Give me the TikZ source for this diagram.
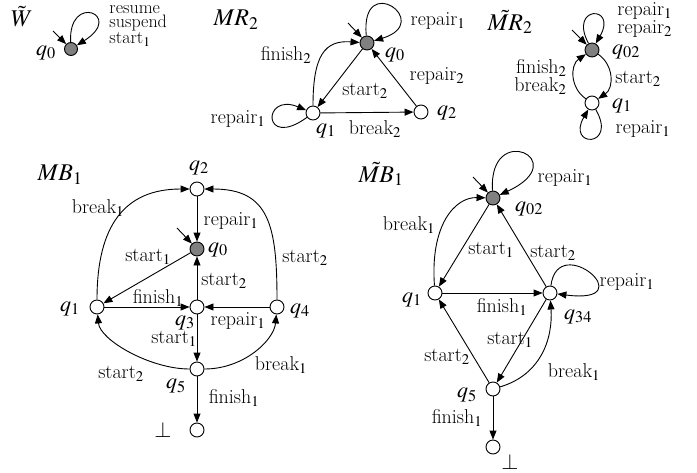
\documentclass[tikz,border=0pt]{standalone}
\usepackage{mathptmx}
\usetikzlibrary{arrows.meta}
\begin{document}
\begin{tikzpicture}[x=1pt,y=-1pt, line width=0.9pt,
  st/.style={circle,draw,fill=white,minimum size=14pt,inner sep=0pt},
  ini/.style={st,fill=gray},
  lb/.style={inner sep=0pt,font=\fontsize{20}{14}\selectfont},
  ql/.style={inner sep=0pt,font=\fontsize{22}{22}\selectfont},
  tl/.style={inner sep=0pt,font=\fontsize{24}{24}\selectfont},
  ed/.style={-{Triangle[length=9pt,width=7pt]}}]
\useasboundingbox (0,0) rectangle (697,472);

% ---------- W tilde ----------
\node[tl] (tW) at (22,17) {$\tilde{W}$};
\node[ini,minimum size=13pt] (w0) at (71,49) {};
\node[ql] (w0l) at (46,53) {$q_0$};
\coordinate (w0i) at (53,31);
\draw[ed] (w0i) -- (w0);
\draw[ed] (w0) .. controls (68,-8) and (125,15) .. (w0);
\node[lb,font=\fontsize{18}{14}\selectfont,align=left,anchor=west] (wl) at (109,26) {resume\\suspend\\start$_1$};

% ---------- MR_2 ----------
\node[tl] (tMR) at (236,20) {$MR_2$};
\node[ini] (a0) at (367,43) {};
\node[st] (a1) at (313,113) {};
\node[st] (a2) at (421,112) {};
\node[ql] (a0l) at (395,55) {$q_0$};
\node[ql] (a1l) at (326,131) {$q_1$};
\node[ql] (a2l) at (447,113) {$q_2$};
\coordinate (a0i) at (348,23);
\draw[ed] (a0i) -- (a0);
\draw[ed] (a0) .. controls (360,-30) and (435,22) .. (a0);
\draw[ed] (a0) -- (a1);
\draw[ed] (a1) -- (a2);
\draw[ed] (a2) -- (a0);
\draw[ed] (a1) .. controls (313,55) and (325,40) .. (a0);
\draw[ed] (a1) .. controls (262,150) and (262,92) .. (a1);
\node[lb] (la1) at (438,21) {repair$_1$};
\node[lb] (la2) at (437,76) {repair$_2$};
\node[lb] (la3) at (365,91) {start$_2$};
\node[lb] (la4) at (286,55) {finish$_2$};
\node[lb] (la5) at (238,119) {repair$_1$};
\node[lb] (la6) at (375,129) {break$_2$};

% ---------- MR_2 tilde ----------
\node[tl] (tMRt) at (510,22) {$\tilde{MR}_2$};
\node[ini] (b0) at (592,50) {};
\node[st] (b1) at (592,103) {};
\node[ql] (b0l) at (626,52) {$q_{02}$};
\node[ql] (b1l) at (622,106) {$q_1$};
\coordinate (b0i) at (572,30);
\draw[ed] (b0i) -- (b0);
\draw[ed] (b0) .. controls (568,5) and (618,5) .. (b0);
\draw[ed] (b0) .. controls (614,65) and (614,88) .. (b1);
\draw[ed] (b1) .. controls (570,88) and (570,65) .. (b0);
\draw[ed] (b1) .. controls (618,148) and (566,148) .. (b1);
\node[lb,align=left,anchor=west] (lb1) at (617,20) {repair$_1$\\repair$_2$};
\node[lb,align=right,anchor=east] (lb2) at (567,77) {finish$_2$\\break$_2$};
\node[lb] (lb3) at (638,79) {start$_2$};
\node[lb] (lb4) at (643,129) {repair$_1$};

% ---------- MB_1 ----------
\node[tl] (tMB) at (60,175) {$MB_1$};
\node[st] (c2) at (197,189) {};
\node[ini] (c0) at (197,249) {};
\node[st] (c1) at (97,307) {};
\node[st] (c3) at (197,307) {};
\node[st] (c4) at (277,307) {};
\node[st] (c5) at (197,369) {};
\node[st] (cb) at (197,430) {};
\node[ql] (c2l) at (199,168) {$q_2$};
\node[ql] (c0l) at (218,250) {$q_0$};
\node[ql] (c1l) at (70,309) {$q_1$};
\node[ql] (c4l) at (300,311) {$q_4$};
\node[ql] (c3l) at (185,323) {$q_3$};
\node[ql] (c5l) at (176,386) {$q_5$};
\node[ql] (cbl) at (163,430) {$\perp$};
\coordinate (c0i) at (177,228);
\draw[ed] (c0i) -- (c0);
\draw[ed] (c2) -- (c0);
\draw[ed] (c0) -- (c1);
\draw[ed] (c3) -- (c0);
\draw[ed] (c1) -- (c3);
\draw[ed] (c4) -- (c3);
\draw[ed] (c3) -- (c5);
\draw[ed] (c5) -- (cb);
\draw[ed] (c1) .. controls (97,225) and (125,189) .. (c2);
\draw[ed] (c4) .. controls (277,225) and (269,189) .. (c2);
\draw[ed] (c5) .. controls (150,369) and (100,340) .. (c1);
\draw[ed] (c5) .. controls (244,369) and (274,340) .. (c4);
\node[lb] (lc1) at (231,221) {repair$_1$};
\node[lb] (lc2) at (148,257) {start$_1$};
\node[lb] (lc3) at (224,281) {start$_2$};
\node[lb] (lc4) at (98,208) {break$_1$};
\node[lb] (lc5) at (305,258) {start$_2$};
\node[lb] (lc6) at (158,298) {finish$_1$};
\node[lb] (lc7) at (238,321) {repair$_1$};
\node[lb] (lc8) at (174,339) {start$_1$};
\node[lb] (lc9) at (121,374) {start$_2$};
\node[lb] (lc10) at (281,365) {break$_1$};
\node[lb] (lc11) at (234,398) {finish$_1$};

% ---------- MB_1 tilde ----------
\node[tl] (tMBt) at (381,174) {$\tilde{MB}_1$};
\node[ini] (d0) at (493,198) {};
\node[st] (d1) at (435,293) {};
\node[st] (d34) at (550,293) {};
\node[st] (d5) at (493,389) {};
\node[st] (db) at (493,447) {};
\node[ql] (d0l) at (529,209) {$q_{02}$};
\node[ql] (d1l) at (412,300) {$q_1$};
\node[ql] (d34l) at (578,317) {$q_{34}$};
\node[ql] (d5l) at (467,395) {$q_5$};
\node[ql] (dbl) at (510,462) {$\perp$};
\coordinate (d0i) at (473,177);
\draw[ed] (d0i) -- (d0);
\draw[ed] (d0) .. controls (488,120) and (575,160) .. (d0);
\draw[ed] (d0) -- (d1);
\draw[ed] (d34) -- (d0);
\draw[ed] (d1) -- (d34);
\draw[ed] (d5) -- (d1);
\draw[ed] (d34) -- (d5);
\draw[ed] (d5) -- (db);
\draw[ed] (d1) .. controls (430,225) and (455,197) .. (d0);
\draw[ed] (d5) .. controls (540,375) and (553,340) .. (d34);
\draw[ed] (d34) .. controls (558,230) and (645,305) .. (d34);
\node[lb] (ld1) at (565,178) {repair$_1$};
\node[lb] (ld2) at (409,225) {break$_1$};
\node[lb] (ld3) at (491,250) {start$_1$};
\node[lb] (ld4) at (553,253) {start$_2$};
\node[lb] (ld5) at (627,282) {repair$_1$};
\node[lb] (ld6) at (502,307) {finish$_1$};
\node[lb] (ld7) at (510,340) {start$_1$};
\node[lb] (ld8) at (447,357) {start$_2$};
\node[lb] (ld9) at (574,372) {break$_1$};
\node[lb] (ld10) at (457,418) {finish$_1$};
\end{tikzpicture}
\end{document}
